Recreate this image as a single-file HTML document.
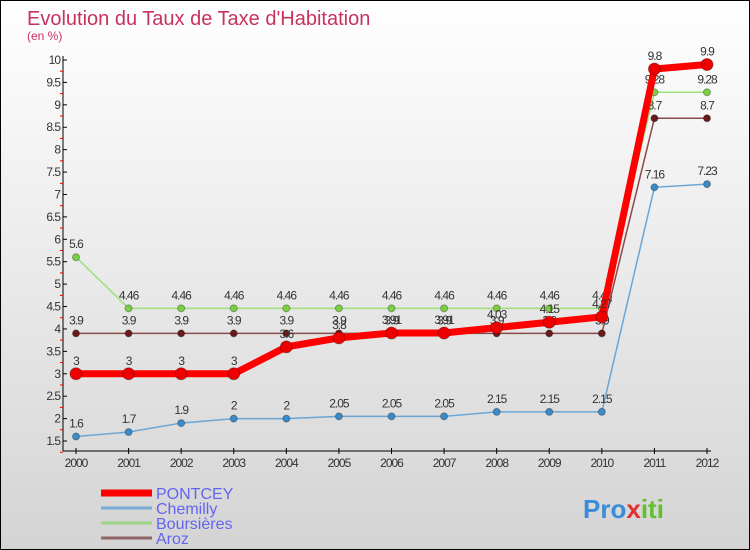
<!DOCTYPE html>
<html><head><meta charset="utf-8"><style>
body{margin:0}
#c{width:750px;height:550px;position:relative;box-sizing:border-box;border:1px solid #000;background:linear-gradient(#fff,#d4d4d4);font-family:"Liberation Sans",sans-serif;overflow:hidden}
</style></head><body>
<div id="c">
<svg id="s" width="750" height="550" style="position:absolute;left:0;top:0">
<text x="26" y="24" font-size="20" fill="#c8325f">Evolution du Taux de Taxe d'Habitation</text>
<text x="26" y="39" font-size="12" fill="#c8325f">(en %)</text>
</svg>
</div>
<script>
const years=["2000","2001","2002","2003","2004","2005","2006","2007","2008","2009","2010","2011","2012"];
const pontcey=[3,3,3,3,3.6,3.8,3.91,3.91,4.03,4.15,4.27,9.8,9.9];
const chemilly=[1.6,1.7,1.9,2,2,2.05,2.05,2.05,2.15,2.15,2.15,7.16,7.23];
const boursieres=[5.6,4.46,4.46,4.46,4.46,4.46,4.46,4.46,4.46,4.46,4.46,9.28,9.28];
const aroz=[3.9,3.9,3.9,3.9,3.9,3.9,3.9,3.9,3.9,3.9,3.9,8.7,8.7];
const yTicks=[1.5,2,2.5,3,3.5,4,4.5,5,5.5,6,6.5,7,7.5,8,8.5,9,9.5,10];
const ns="http://www.w3.org/2000/svg",s=document.getElementById('s');
const X=i=>75+i*(706-75)/12, Y=v=>440-(v-1.5)*(381/8.5);
function el(t,a,p){const e=document.createElementNS(ns,t);for(const k in a)e.setAttribute(k,a[k]);(p||s).appendChild(e);return e;}
let ax=el('line',{x1:62,y1:55,x2:62,y2:450,stroke:'#000'});
let xx=el('line',{x1:62,y1:450,x2:710,y2:450,stroke:'#000'});
yTicks.forEach(v=>{el('line',{x1:62,y1:Y(v),x2:66,y2:Y(v),stroke:'#000'});el('line',{x1:59,y1:Y(v)+22.4*0.5,x2:62,y2:Y(v)+11.2,stroke:'#e00'});
 const t=el('text',{x:59,y:Y(v)+4,'font-size':12,fill:'#333','text-anchor':'end','letter-spacing':'-1'});t.textContent=v;});
years.forEach((y,i)=>{el('line',{x1:X(i),y1:447,x2:X(i),y2:453,stroke:'#000'});const t=el('text',{x:X(i),y:466,'font-size':12,fill:'#333','text-anchor':'middle','letter-spacing':'-1'});t.textContent=y;});
function series(d,col,w,r,name,fill){const g=el('g',{});
 el('polyline',{points:d.map((v,i)=>X(i)+','+Y(v)).join(' '),fill:'none',stroke:col,'stroke-width':w},g);
 d.forEach((v,i)=>{const c=el('circle',{cx:X(i),cy:Y(v),r:r,fill:fill,stroke:'rgba(0,0,0,0.3)'},g);
  const t=el('text',{x:X(i),y:Y(v)-9,'font-size':12,fill:'#333','text-anchor':'middle','letter-spacing':'-1'},g);t.textContent=v;});}
series(chemilly,'#6aa6d6',1.5,3.5,'chemilly','#3a8bc8');
series(boursieres,'#9de07a',1.5,3.5,'boursieres','#7ad042');
series(aroz,'#8a4a4a',1.5,3.5,'aroz','#6a1a1a');
series(pontcey,'#f00',7,6,'pontcey','#e00');
const leg=[['PONTCEY','#f00',7],['Chemilly','#7aaad6',3],['Boursières','#9ed486',3],['Aroz','#906666',3]];
leg.forEach((l,i)=>{const y=492+i*15;const g=el('g',{});
 el('line',{x1:100,y1:y,x2:151,y2:y,stroke:l[1],'stroke-width':l[2]},g);
 const t=el('text',{x:155,y:y+6,'font-size':16,fill:'#6464f0'},g);t.textContent=l[0];});
const lg=el('text',{x:582,y:517,'font-size':26,'font-weight':'bold',fill:'#f08020'});
[['Pro','#3a8bd8'],['x','#e03030'],['iti','#60c030']].forEach(p=>{const ts=el('tspan',{fill:p[1]},lg);ts.textContent=p[0];});
</script>
</body></html>
